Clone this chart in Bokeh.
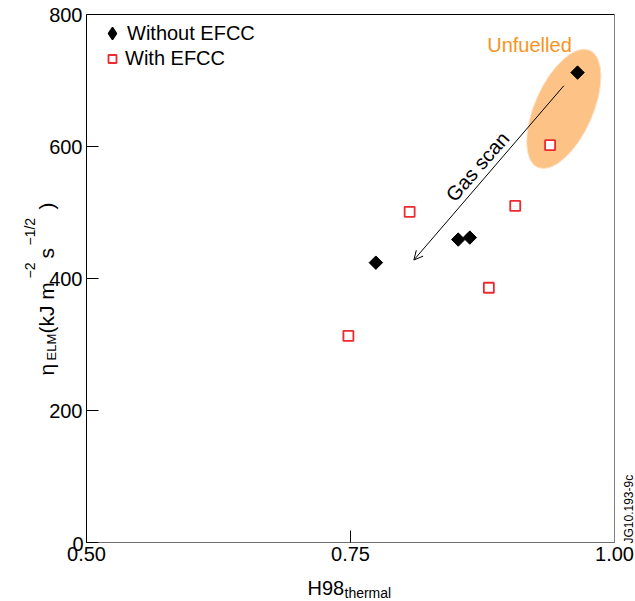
import math
from bokeh.plotting import figure
from bokeh.models import (Range1d, FixedTicker, LinearAxis, Label, Arrow, OpenHead,
                          Legend, LegendItem, PrintfTickFormatter)
from bokeh.embed import file_html
from bokeh.resources import INLINE

# ---- data ----
without_h98 = [0.774, 0.852, 0.863, 0.965]
without_eta = [424, 459, 462, 712]
with_h98 = [0.748, 0.806, 0.881, 0.906, 0.939]
with_eta = [313, 501, 386, 510, 602]
unfuelled_h98 = [0.965, 0.939]
unfuelled_eta = [712, 602]
gas_scan_h98 = [0.952, 0.810]
gas_scan_eta = [692, 428]
x_ticks = [0.50, 0.75, 1.00]
y_ticks = [0, 200, 400, 600, 800]
x_lim = (0.50, 1.00)
y_lim = (0, 800)

FONT = "Liberation Sans"
RED = "#EC2A2F"
ORANGE = "#F7941E"

# page layout (pixels): plotting box of the reference
W, H = 635, 601
BOX_L, BOX_R, BOX_T, BOX_B = 86, 614, 14, 542
kx = (x_lim[1] - x_lim[0]) / (BOX_R - BOX_L)
ky = (y_lim[1] - y_lim[0]) / (BOX_B - BOX_T)

# the frame covers the whole page, so that texts outside the box are not clipped
p = figure(width=W, height=H,
           x_range=Range1d(x_lim[0] - BOX_L * kx, x_lim[1] + (W - BOX_R) * kx),
           y_range=Range1d(y_lim[0] - (H - BOX_B) * ky, y_lim[1] + BOX_T * ky),
           x_axis_location=None, y_axis_location=None,
           output_backend="svg", toolbar_location=None,
           min_border=0)
p.grid.visible = False
p.outline_line_color = None
p.background_fill_color = "white"
p.border_fill_color = "white"


def sx(px):
    return px


def sy(py):
    return H - py


# axes placed on the box edges
yax = LinearAxis(fixed_location=x_lim[0], bounds=y_lim, ticker=FixedTicker(ticks=y_ticks),
                 major_label_overrides={0: ""})
xax = LinearAxis(fixed_location=y_lim[0], bounds=x_lim, ticker=FixedTicker(ticks=x_ticks),
                 formatter=PrintfTickFormatter(format="%.2f"))
for ax in (xax, yax):
    ax.major_tick_in = 12
    ax.major_tick_out = 0
    ax.minor_tick_in = 0
    ax.minor_tick_out = 0
    ax.major_tick_line_color = "black"
    ax.major_tick_line_width = 1
    ax.major_label_text_font = FONT
    ax.major_label_text_font_size = "20px"
    ax.major_label_text_color = "black"
    ax.major_label_standoff = 4
yax.axis_line_color = "black"
xax.axis_line_color = "#707070"
p.add_layout(yax, "left")
p.add_layout(xax, "below")

for loc, place, bnds, col in ((y_lim[1], "above", x_lim, "black"),
                              (x_lim[1], "right", y_lim, "#808080")):
    p.add_layout(LinearAxis(fixed_location=loc, bounds=bnds, ticker=FixedTicker(ticks=[]),
                            axis_line_color=col, major_label_text_font_size="0px",
                            major_tick_out=0, major_tick_in=0,
                            minor_tick_out=0, minor_tick_in=0), place)

# unfuelled ellipse (centred on the two unfuelled points)
cx = sum(unfuelled_h98) / len(unfuelled_h98)
cy = sum(unfuelled_eta) / len(unfuelled_eta)
p.ellipse(x=[cx], y=[cy], width=[128], height=[58], angle=[math.radians(66)],
          width_units="screen", height_units="screen",
          fill_color="#FCC286", line_color="#FDE2C6", line_width=1)

# legend key glyph for the diamonds (tiny, hidden under the plotted diamonds)
r_without_key = p.scatter(without_h98, without_eta, marker="diamond", size=1,
                          fill_color="black", line_color="black", line_width=1.5)
# markers
r_without = p.scatter(without_h98, without_eta, marker="square", angle=math.pi / 4,
                      size=9.5, fill_color="black", line_color="black", line_width=1)
r_with = p.scatter(with_h98, with_eta, marker="square", size=10,
                   fill_color="white", line_color=RED, line_width=1.8)

# gas scan arrow
p.add_layout(Arrow(x_start=gas_scan_h98[0], y_start=gas_scan_eta[0],
                   x_end=gas_scan_h98[1], y_end=gas_scan_eta[1],
                   line_color="black", line_width=1,
                   end=OpenHead(size=9, line_color="black", line_width=1)))

p.add_layout(Label(x=sx(477), y=sy(166), x_units="screen", y_units="screen",
                   text="Gas scan", angle=math.radians(49), text_align="center",
                   text_baseline="middle", text_font=FONT, text_font_size="20px",
                   text_color="black"))

p.add_layout(Label(x=sx(529), y=sy(44), x_units="screen", y_units="screen",
                   text="Unfuelled", text_align="center", text_baseline="alphabetic",
                   text_font=FONT, text_font_size="20px", text_color=ORANGE))

# legends
common = dict(border_line_color=None, background_fill_alpha=0, padding=5, spacing=0,
              label_text_font=FONT, label_text_font_size="20px", label_text_color="black")
leg_a = Legend(items=[LegendItem(label="Without EFCC", renderers=[r_without_key])],
               location=(97, 549), glyph_width=30, glyph_height=38, label_height=38,
               label_standoff=0, **common)
leg_b = Legend(items=[LegendItem(label="With EFCC", renderers=[r_with])],
               location=(102, 530), glyph_width=20, glyph_height=25, label_height=25,
               label_standoff=3, **common)
p.add_layout(leg_a)
p.add_layout(leg_b)

# y tick label "0" (raised, as in reference)
p.add_layout(Label(x=sx(83), y=sy(543), x_units="screen", y_units="screen",
                   text="0", text_align="right", text_baseline="alphabetic",
                   text_font=FONT, text_font_size="20px", text_color="black"))

# x axis label: H98_thermal
p.add_layout(Label(x=sx(307), y=sy(587), x_units="screen", y_units="screen",
                   text="H98", text_align="left", text_baseline="alphabetic",
                   text_font=FONT, text_font_size="20px", text_color="black"))
p.add_layout(Label(x=sx(344), y=sy(592), x_units="screen", y_units="screen",
                   text="thermal", text_align="left", text_baseline="alphabetic",
                   text_font=FONT, text_font_size="14px", text_color="black"))

# y axis label: eta_ELM (kJ m^-2 s^-1/2), rotated
ylab = [
    ("\u03b7", 375, 46, "21px"),
    ("ELM", 360, 51, "13px"),
    ("(kJ m", 333, 46, "21px"),
    ("\u22122", 278, 29, "14px"),
    ("s", 258, 46, "21px"),
    ("\u22121/2", 245, 29, "14px"),
    (")", 209, 46, "21px"),
]
for txt, ypx, xpx, fs in ylab:
    p.add_layout(Label(x=sx(xpx), y=sy(ypx), x_units="screen", y_units="screen",
                       text=txt, angle=math.pi / 2, text_align="left",
                       text_baseline="alphabetic", text_font=FONT,
                       text_font_size=fs, text_color="black"))

# figure code
p.add_layout(Label(x=sx(628), y=sy(543), x_units="screen", y_units="screen",
                   text="JG10.193-9c", angle=math.pi / 2, text_align="left",
                   text_baseline="alphabetic", text_font=FONT,
                   text_font_size="12px", text_color="black"))

open("out.html", "w").write(file_html(p, INLINE))
